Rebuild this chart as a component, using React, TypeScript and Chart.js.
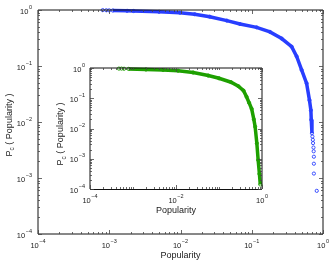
import { useEffect, useRef } from "react";
import { Chart, registerables } from "chart.js";

Chart.register(...registerables);

// ---------- data ----------
const tickValues = [1e-4, 1e-3, 1e-2, 1e-1, 1];
const tickExponents = ["\u22124", "\u22123", "\u22122", "\u22121", "0"];

// main plot (blue)
const blueHeadX = [8.1e-4, 9.1e-4, 1.0e-3];
const blueHeadY = [0.995, 0.99, 0.985];
const blueBodyX = [1.12e-3, 1.78e-3, 2.19e-3, 5.0e-3, 9.8e-3, 1.58e-2, 2.57e-2, 4.47e-2, 6.84e-2, 0.117, 0.18, 0.263, 0.363, 0.427, 0.501, 0.589, 0.646, 0.676, 0.684, 0.7];
const blueBodyY = [0.98, 0.966, 0.959, 0.929, 0.895, 0.841, 0.759, 0.646, 0.562, 0.49, 0.407, 0.309, 0.221, 0.148, 0.0851, 0.049, 0.0245, 0.0162, 0.011, 0.0063];
const blueTailX = [0.71, 0.72, 0.725, 0.735, 0.74, 0.745, 0.745, 0.745, 0.817];
const blueTailY = [0.0055, 0.0048, 0.0042, 0.0035, 0.003, 0.0024, 0.0018, 0.0012, 0.00059];

// inset plot (green)
const greenHeadX = [4.7e-4, 5.4e-4, 6.2e-4];
const greenHeadY = [0.955, 0.955, 0.944];
const greenBodyX = [7.9e-4, 2.0e-3, 5.0e-3, 1.12e-2, 2.51e-2, 5.62e-2, 0.1, 0.191, 0.282, 0.372, 0.437, 0.501, 0.575, 0.646, 0.692, 0.759, 0.813, 0.871, 0.912];
const greenBodyY = [0.933, 0.891, 0.861, 0.813, 0.708, 0.562, 0.457, 0.339, 0.251, 0.178, 0.112, 0.0708, 0.0447, 0.02, 0.0115, 0.00324, 0.000912, 0.000316, 0.000141];

const BLUE = "rgb(40,62,255)";
const GREEN = "rgb(30,160,0)";
const FONT = '"Liberation Sans", Arial, Helvetica, sans-serif';

function pts(xs: number[], ys: number[]) {
  return xs.map((x, i) => ({ x, y: ys[i] }));
}

function markerSet(data: any[], color: string, line: boolean, lineWidth = 3.5) {
  return {
    data,
    showLine: line,
    borderColor: color,
    backgroundColor: "rgba(0,0,0,0)",
    borderWidth: line ? lineWidth : 1,
    pointRadius: 1.6,
    pointBorderWidth: 0.9,
    pointBorderColor: color,
    pointBackgroundColor: "rgba(255,255,255,0)",
    pointStyle: "circle",
    clip: false as any,
  };
}

type Decor = {
  xLabelBaseOffset: number;
  yLabelGap: number;
  xTitleBaseline: number;
  yTitleX: number;
  yTitleY: number;
  bottomCrisp: boolean;
  xLabelStep: number;
};

function drawPow(ctx: CanvasRenderingContext2D, base: string, exp: string, x: number, y: number, align: "center" | "right") {
  ctx.font = `7.5px ${FONT}`;
  const wb = ctx.measureText(base).width;
  ctx.font = `5.5px ${FONT}`;
  const we = ctx.measureText(exp).width;
  const total = wb + 0.6 + we;
  const left = align === "center" ? x - total / 2 : x - total;
  ctx.textAlign = "left";
  ctx.textBaseline = "alphabetic";
  ctx.font = `7.5px ${FONT}`;
  ctx.fillText(base, left, y);
  ctx.font = `5.5px ${FONT}`;
  ctx.fillText(exp, left + wb + 0.6, y - 5);
}

function drawYTitle(ctx: CanvasRenderingContext2D, x: number, y: number) {
  const big = `9px ${FONT}`;
  const small = `6.5px ${FONT}`;
  ctx.font = big;
  const wP = ctx.measureText("P").width;
  const rest = " ( Popularity )";
  const wR = ctx.measureText(rest).width;
  ctx.font = small;
  const wc = ctx.measureText("c").width;
  const total = wP + wc + wR;
  ctx.save();
  ctx.translate(x, y);
  ctx.rotate(-Math.PI / 2);
  ctx.textAlign = "left";
  ctx.textBaseline = "alphabetic";
  let cx = -total / 2;
  ctx.font = big;
  ctx.fillText("P", cx, 0);
  cx += wP;
  ctx.font = small;
  ctx.fillText("c", cx, 2.5);
  cx += wc;
  ctx.font = big;
  ctx.fillText(rest, cx, 0);
  ctx.restore();
}

const decorPlugin = {
  id: "decor",
  afterDatasetsDraw(chart: any, _args: any, opts: Decor) {
    const ctx: CanvasRenderingContext2D = chart.ctx;
    const xs = chart.scales.x;
    const ys = chart.scales.y;
    const a = chart.chartArea;
    const L = Math.round(a.left), R = Math.round(a.right), T = Math.round(a.top), B = Math.round(a.bottom);
    ctx.save();
    // frame
    ctx.strokeStyle = "#111";
    ctx.lineWidth = 1;
    ctx.beginPath();
    ctx.moveTo(L, T); ctx.lineTo(R, T); ctx.lineTo(R, B);
    ctx.stroke();
    ctx.beginPath();
    ctx.moveTo(L, T); ctx.lineTo(L, B);
    ctx.stroke();
    ctx.beginPath();
    const by = opts.bottomCrisp ? B + 0.5 : B;
    ctx.moveTo(L, by); ctx.lineTo(R, by);
    ctx.stroke();

    // ticks
    ctx.strokeStyle = "#444";
    ctx.lineWidth = 0.8;
    ctx.beginPath();
    for (let d = 0; d < tickValues.length; d++) {
      const v = tickValues[d];
      const px = Math.round(xs.getPixelForValue(v)) + 0.5;
      const py = Math.round(ys.getPixelForValue(v)) + 0.5;
      if (d % opts.xLabelStep === 0) {
        ctx.moveTo(px, B); ctx.lineTo(px, B - 4);
        ctx.moveTo(px, T); ctx.lineTo(px, T + 4);
      }
      ctx.moveTo(L, py); ctx.lineTo(L + 4, py);
      ctx.moveTo(R, py); ctx.lineTo(R - 4, py);
      if (d < tickValues.length - 1) {
        for (let k = 2; k <= 9; k++) {
          const mv = v * k;
          const mx = Math.round(xs.getPixelForValue(mv)) + 0.5;
          const my = Math.round(ys.getPixelForValue(mv)) + 0.5;
          ctx.moveTo(mx, B); ctx.lineTo(mx, B - 2);
          ctx.moveTo(mx, T); ctx.lineTo(mx, T + 2);
          ctx.moveTo(L, my); ctx.lineTo(L + 2, my);
          ctx.moveTo(R, my); ctx.lineTo(R - 2, my);
        }
      }
      if (d % opts.xLabelStep !== 0) {
        ctx.moveTo(px, B); ctx.lineTo(px, B - 2);
        ctx.moveTo(px, T); ctx.lineTo(px, T + 2);
      }
    }
    ctx.stroke();

    // tick labels
    ctx.fillStyle = "#1a1a1a";
    for (let d = 0; d < tickValues.length; d++) {
      const v = tickValues[d];
      const px = xs.getPixelForValue(v);
      const py = ys.getPixelForValue(v);
      if (d % opts.xLabelStep === 0) {
        drawPow(ctx, "10", tickExponents[d], px, B + opts.xLabelBaseOffset, "center");
      }
      drawPow(ctx, "10", tickExponents[d], L - opts.yLabelGap, py + 3.5, "right");
    }

    // titles
    ctx.font = `9px ${FONT}`;
    ctx.textAlign = "center";
    ctx.textBaseline = "alphabetic";
    ctx.fillText("Popularity", (L + R) / 2, opts.xTitleBaseline);
    drawYTitle(ctx, opts.yTitleX, opts.yTitleY);
    ctx.restore();
  },
};

function makeChart(canvas: HTMLCanvasElement, datasets: any[], padding: any, yWidth: number, xHeight: number, decor: Decor) {
  return new Chart(canvas, {
    type: "scatter",
    data: { datasets },
    options: {
      animation: false,
      responsive: false,
      devicePixelRatio: 1,
      layout: { padding },
      plugins: {
        legend: { display: false },
        tooltip: { enabled: false },
        decor,
      } as any,
      scales: {
        x: {
          type: "logarithmic",
          min: 1e-4,
          max: 1,
          grid: { display: false },
          border: { display: false },
          ticks: { display: false },
          afterFit: (s: any) => { s.height = xHeight; },
        },
        y: {
          type: "logarithmic",
          min: 1e-4,
          max: 1,
          grid: { display: false },
          border: { display: false },
          ticks: { display: false },
          afterFit: (s: any) => { s.width = yWidth; },
        },
      },
    } as any,
    plugins: [decorPlugin as any],
  });
}

export default function App() {
  const mainRef = useRef<HTMLCanvasElement>(null);
  const insetRef = useRef<HTMLCanvasElement>(null);

  useEffect(() => {
    const main = makeChart(
      mainRef.current!,
      [
        markerSet(pts(blueHeadX, blueHeadY), BLUE, false),
        markerSet(pts(blueBodyX, blueBodyY), BLUE, true, 3.5),
        markerSet(pts(blueTailX, blueTailY), BLUE, false),
      ],
      { left: 0, top: 10, right: 9, bottom: 0 },
      38,
      27,
      { xLabelBaseOffset: 13.5, yLabelGap: 6, xTitleBaseline: 257.5, yTitleX: 11.5, yTitleY: 125, bottomCrisp: false, xLabelStep: 1 }
    );
    const inset = makeChart(
      insetRef.current!,
      [
        markerSet(pts(greenHeadX, greenHeadY), GREEN, false),
        markerSet(pts(greenBodyX, greenBodyY), GREEN, true, 3.5),
      ],
      { left: 0, top: 8, right: 10, bottom: 0 },
      40,
      31,
      { xLabelBaseOffset: 14, yLabelGap: 5, xTitleBaseline: 152.5, yTitleX: 13, yTitleY: 74, bottomCrisp: true, xLabelStep: 2 }
    );
    return () => {
      main.destroy();
      inset.destroy();
    };
  }, []);

  return (
    <div style={{ position: "fixed", left: 0, top: 0, width: 332, height: 261, background: "#fff" }}>
      <canvas ref={mainRef} width={332} height={261} style={{ position: "absolute", left: 0, top: 0 }} />
      <canvas ref={insetRef} width={222} height={160} style={{ position: "absolute", left: 50, top: 60 }} />
    </div>
  );
}
